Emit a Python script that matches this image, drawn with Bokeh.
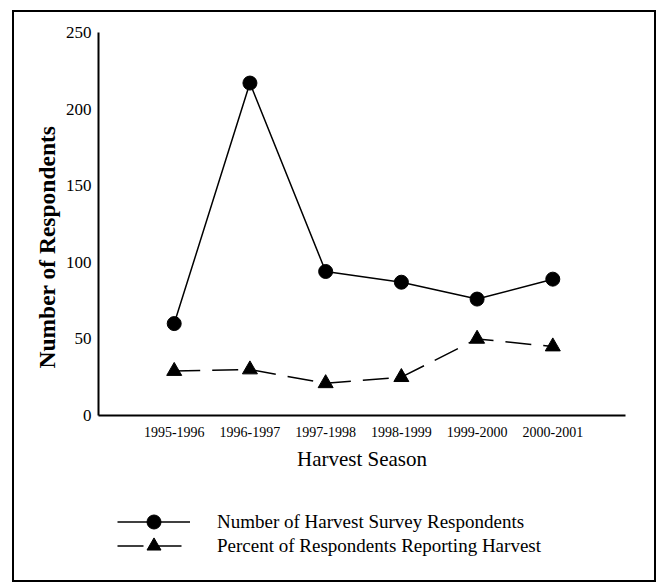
from bokeh.plotting import figure
from bokeh.layouts import column
from bokeh.models import Range1d, FixedTicker, Legend, LegendItem, Title
from bokeh.embed import file_html
from bokeh.resources import INLINE

seasons = ["1995-1996", "1996-1997", "1997-1998", "1998-1999", "1999-2000", "2000-2001"]
respondents = [60, 217, 94, 87, 76, 89]
percent_reporting = [29, 30, 21, 25, 50, 45]
y_ticks = [0, 50, 100, 150, 200, 250]
series_names = ["Number of Harvest Survey Respondents",
                "Percent of Respondents Reporting Harvest"]

FONT = "Liberation Serif"
xpos = list(range(1, len(seasons) + 1))

p = figure(width=640, height=470, output_backend="svg", toolbar_location=None,
           x_range=Range1d(0, 6.96), y_range=Range1d(0, 250),
           min_border_left=84, min_border_right=29, min_border_top=20,
           min_border_bottom=67)
p.outline_line_color = None
p.grid.grid_line_color = None
p.background_fill_color = "white"
p.border_fill_color = "white"

style1 = dict(line_color="black", line_width=1.5)
style2 = dict(line_color="black", line_width=1.5, line_dash="26 12")
mk1 = dict(marker="circle", size=14, fill_color="black", line_color="black")
mk2 = dict(marker="triangle", size=15, fill_color="black", line_color="black")

p.line(xpos, respondents, **style1)
p.scatter(xpos, respondents, **mk1)
p.line(xpos, percent_reporting, **style2)
p.scatter(xpos, percent_reporting, **mk2)

# axes
p.xaxis.ticker = FixedTicker(ticks=xpos)
p.xaxis.major_label_overrides = {x: s for x, s in zip(xpos, seasons)}
p.yaxis.ticker = FixedTicker(ticks=y_ticks)
for ax in (p.xaxis[0], p.yaxis[0]):
    ax.axis_line_color = "black"
    ax.axis_line_width = 2
    ax.major_tick_line_color = None
    ax.minor_tick_line_color = None
    ax.major_tick_out = 0
    ax.major_tick_in = 0
    ax.minor_tick_out = 0
    ax.minor_tick_in = 0
    ax.major_label_text_font = FONT
    ax.major_label_text_color = "black"
p.xaxis.major_label_text_font_size = "14px"
p.xaxis.major_label_standoff = 11
p.yaxis.major_label_text_font_size = "17px"
p.yaxis.major_label_standoff = 7
p.xaxis.axis_label = "Harvest Season"
p.xaxis.axis_label_text_font = FONT
p.xaxis.axis_label_text_font_style = "normal"
p.xaxis.axis_label_text_font_size = "21px"
p.xaxis.axis_label_text_color = "black"
p.xaxis.axis_label_standoff = 7

ytitle = Title(text="Number of Respondents", align="left", offset=47,
               text_font=FONT, text_font_size="23.5px", text_font_style="bold",
               text_color="black", standoff=6)
p.add_layout(ytitle, "left")

# legend panel
nan = float("nan")
q = figure(width=640, height=98, output_backend="svg", toolbar_location=None,
           x_range=Range1d(0, 1), y_range=Range1d(0, 1),
           min_border_left=0, min_border_right=0, min_border_top=0,
           min_border_bottom=0)
q.axis.visible = False
q.grid.grid_line_color = None
q.outline_line_color = None
q.background_fill_color = "white"
q.border_fill_color = "white"
l1 = q.line([nan, nan], [nan, nan], **style1)
s1 = q.scatter([nan], [nan], **mk1)
l2 = q.line([nan, nan], [nan, nan], **style2)
s2 = q.scatter([nan], [nan], **mk2)


def make_legend(label, renderers, loc):
    lg = Legend(items=[LegendItem(label=label, renderers=renderers)],
                location=loc, orientation="vertical")
    lg.border_line_color = None
    lg.background_fill_alpha = 0
    lg.padding = 0
    lg.margin = 0
    lg.glyph_width = 73
    lg.glyph_height = 35
    lg.label_height = 20
    lg.spacing = 0
    lg.label_standoff = 27
    lg.label_text_font = FONT
    lg.label_text_font_size = "19px"
    lg.label_text_color = "black"
    return lg


q.add_layout(make_legend(series_names[0], [l1, s1], (19, 41)), "center")
q.add_layout(make_legend(series_names[1], [l2, s2], (19, 17)), "center")

col = column(p, q, spacing=0)
col.margin = (12, 0, 0, 14)
col.styles = {"outline": "2px solid black"}

open("out.html", "w").write(file_html(col, INLINE))
